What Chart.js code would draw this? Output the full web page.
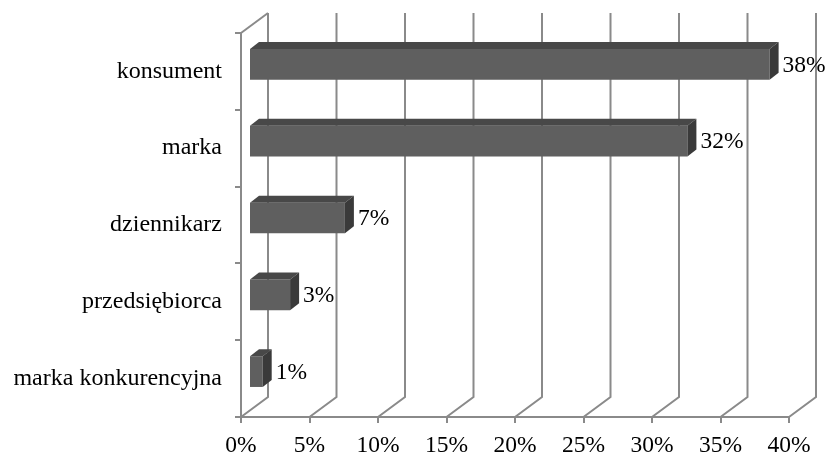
<!DOCTYPE html>
<html>
<head>
<meta charset="utf-8">
<script src="https://cdn.jsdelivr.net/npm/chart.js@4.4.1/dist/chart.umd.min.js"></script>
<style>
html,body{margin:0;padding:0;background:#fff;}
canvas{display:block;}
</style>
</head>
<body>
<canvas id="c" width="829" height="455"></canvas>
<script>
const categories = ["konsument", "marka", "dziennikarz", "przedsiębiorca", "marka konkurencyjna"];
const values = [38, 32, 7, 3, 1];
const valueLabels = ["38%", "32%", "7%", "3%", "1%"];
const xMin = 0, xMax = 40, xStep = 5;

const DEPTH_X = 27, DEPTH_Y = -20;   // wall depth
const BAR_OFF_X = 8, BAR_OFF_Y = -7; // bar front plane offset
const BAR_DX = 9, BAR_DY = -7;       // bar depth
const GRID = '#8a8a8a';
const FONT = "'Liberation Serif', 'Times New Roman', serif";

const walls = {
  id: 'walls',
  beforeDatasetsDraw(chart) {
    const ctx = chart.ctx, xs = chart.scales.x, a = chart.chartArea;
    ctx.save();
    ctx.strokeStyle = GRID;
    ctx.lineWidth = 2;
    for (let v = xMin; v <= xMax; v += xStep) {
      const px = xs.getPixelForValue(v);
      ctx.beginPath();
      ctx.moveTo(px, a.bottom);
      ctx.lineTo(px + DEPTH_X, a.bottom + DEPTH_Y);
      ctx.lineTo(px + DEPTH_X, a.top + DEPTH_Y);
      ctx.stroke();
    }
    const p0 = xs.getPixelForValue(xMin);
    ctx.beginPath();
    ctx.moveTo(p0, a.top);
    ctx.lineTo(p0 + DEPTH_X, a.top + DEPTH_Y);
    ctx.stroke();
    ctx.restore();
    ctx.save();
    ctx.translate(BAR_OFF_X, BAR_OFF_Y);
  },
  afterDatasetsDraw(chart) {
    const ctx = chart.ctx;
    ctx.restore();
    const meta = chart.getDatasetMeta(0);
    ctx.save();
    meta.data.forEach((el, i) => {
      const p = el.getProps(['x', 'y', 'base', 'height'], true);
      const l = Math.min(p.base, p.x) + BAR_OFF_X;
      const r = Math.max(p.base, p.x) + BAR_OFF_X;
      const t = p.y - p.height / 2 + BAR_OFF_Y;
      const b = p.y + p.height / 2 + BAR_OFF_Y;
      ctx.fillStyle = '#484848';
      ctx.beginPath();
      ctx.moveTo(l, t); ctx.lineTo(r, t);
      ctx.lineTo(r + BAR_DX, t + BAR_DY); ctx.lineTo(l + BAR_DX, t + BAR_DY);
      ctx.closePath(); ctx.fill();
      ctx.fillStyle = '#3a3a3a';
      ctx.beginPath();
      ctx.moveTo(r, t); ctx.lineTo(r + BAR_DX, t + BAR_DY);
      ctx.lineTo(r + BAR_DX, b + BAR_DY); ctx.lineTo(r, b);
      ctx.closePath(); ctx.fill();
      ctx.fillStyle = '#000';
      ctx.font = "23.5px " + FONT;
      ctx.textBaseline = 'middle';
      ctx.textAlign = 'left';
      ctx.fillText(valueLabels[i], r + BAR_DX + 4, (t + b) / 2 + 1);
    });
    ctx.restore();
  }
};

new Chart(document.getElementById('c'), {
  type: 'bar',
  data: {
    labels: categories,
    datasets: [{
      data: values,
      backgroundColor: '#5f5f5f',
      borderWidth: 0,
      barPercentage: 0.4,
      categoryPercentage: 1,
      clip: false
    }]
  },
  options: {
    indexAxis: 'y',
    responsive: false,
    animation: false,
    devicePixelRatio: 1,
    layout: { padding: { top: 33, right: 40, left: 0, bottom: 0 } },
    plugins: { legend: { display: false }, tooltip: { enabled: false } },
    scales: {
      x: {
        min: xMin, max: xMax,
        ticks: {
          stepSize: xStep,
          color: '#000',
          font: { family: FONT, size: 23.5 },
          padding: 9,
          callback: v => v + '%'
        },
        grid: { drawOnChartArea: false, drawTicks: true, tickLength: 6, color: GRID, lineWidth: 2 },
        border: { display: true, color: GRID, width: 2 },
        afterFit(s) { s.height = 38; }
      },
      y: {
        ticks: {
          color: '#000',
          font: { family: FONT, size: 24 },
          padding: 13
        },
        grid: { drawOnChartArea: false, drawTicks: true, tickLength: 6, color: GRID, lineWidth: 2, offset: true },
        border: { display: true, color: GRID, width: 2 },
        afterFit(s) { s.width = 241; }
      }
    }
  },
  plugins: [walls]
});
</script>
</body>
</html>
